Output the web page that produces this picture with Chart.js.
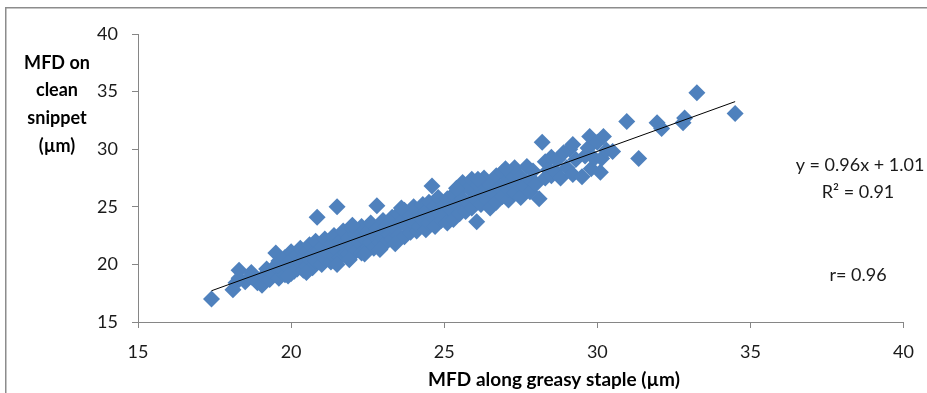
<!DOCTYPE html>
<html>
<head>
<meta charset="utf-8">
<script src="https://cdn.jsdelivr.net/npm/chart.js@4/dist/chart.umd.min.js"></script>
<style>
html,body{margin:0;padding:0;background:#fff;}
#wrap{width:927px;height:393px;position:relative;}
</style>
</head>
<body>
<div id="wrap"><canvas id="c" width="927" height="393"></canvas></div>
<script>
// MFD along greasy staple (µm)
const greasyMFD = [
17.4,18.1,18.2,18.3,18.3,18.5,18.7,18.7,18.9,19.05,19.1,19.2,19.3,19.4,19.5,19.5,19.6,19.6,19.7,19.8,
19.8,19.9,20.0,20.0,20.0,20.1,20.1,20.2,20.2,20.3,20.3,20.4,20.4,20.5,20.5,20.6,20.6,20.7,20.7,20.8,
20.8,20.85,20.9,21.0,21.0,21.1,21.1,21.2,21.3,21.3,21.4,21.4,21.5,21.5,21.6,21.6,21.7,21.7,21.8,21.9,
21.9,22.0,22.0,22.1,22.1,22.2,22.3,22.3,22.4,22.5,22.5,22.6,22.6,22.7,22.7,22.8,22.8,22.9,23.0,23.0,
23.1,23.1,23.2,23.3,23.3,23.4,23.5,23.5,23.6,23.7,23.7,23.8,23.9,23.9,24.0,24.0,24.1,24.2,24.2,24.3,
24.3,24.4,24.4,24.5,24.5,24.6,24.6,24.7,24.7,24.8,24.8,24.9,25.0,25.0,25.1,25.1,25.2,25.3,25.3,25.4,
25.5,25.5,25.6,25.6,25.7,25.8,25.8,25.9,25.9,26.0,26.06,26.1,26.2,26.3,26.3,26.4,26.5,26.5,26.6,26.7,
26.7,26.8,26.9,26.9,27.0,27.1,27.1,27.2,27.3,27.3,27.4,27.5,27.5,27.6,27.7,27.8,27.8,27.9,28.0,28.1,
28.2,28.3,28.3,28.4,28.5,28.5,28.6,28.7,28.8,28.9,29.0,29.1,29.2,29.2,29.3,29.5,29.6,29.7,29.75,29.8,
29.9,30.0,30.1,30.14,30.2,30.3,30.5,30.96,31.35,31.95,32.1,32.8,32.85,33.25,34.5,
19.9,20.5,21.5,21.9,22.4,22.9,23.4,22.0,23.6,25.4,26.1,27.0
];
// MFD on clean snippet (µm)
const cleanMFD = [
17.0,17.8,18.4,19.5,18.8,18.5,19.3,18.9,18.4,18.2,19.0,19.6,18.7,19.2,21.0,19.9,18.8,20.3,19.5,20.6,
19.1,19.8,19.2,21.1,20.4,20.0,19.4,19.6,20.8,21.4,20.2,19.5,20.6,21.1,19.8,20.4,21.7,19.7,20.9,20.3,
22.0,24.1,21.2,21.5,20.0,20.6,22.2,21.0,20.2,21.8,20.7,22.5,21.2,25.0,20.6,22.0,21.7,22.9,21.0,22.3,
20.9,21.5,23.1,21.1,22.6,22.0,21.0,23.3,22.2,21.5,22.9,21.9,23.6,21.4,22.6,25.1,23.1,21.9,23.8,22.3,
21.9,23.3,22.6,24.1,22.2,23.1,22.5,24.4,23.7,22.4,24.7,23.2,22.8,24.2,23.5,25.0,22.9,24.4,23.3,25.2,
23.9,23.0,24.6,23.6,25.4,26.8,24.2,23.3,25.1,24.5,25.8,23.8,25.2,24.3,23.6,25.7,24.8,23.9,26.1,25.2,
24.4,26.4,25.7,27.1,24.6,25.3,26.6,24.9,27.4,25.8,23.7,26.9,25.2,26.2,27.5,25.6,26.9,24.9,26.2,27.7,
25.4,26.7,25.9,28.0,27.1,25.6,26.5,27.8,26.2,28.4,27.0,25.8,27.6,26.8,28.5,27.3,26.3,28.1,27.0,25.7,
30.6,28.9,27.5,28.2,29.3,27.7,28.1,29.1,27.5,29.7,28.4,30.0,27.8,30.4,29.1,27.6,29.4,30.1,31.1,28.3,
29.2,30.6,28.0,29.2,31.1,29.9,29.8,32.4,29.2,32.3,31.8,32.3,32.7,34.9,33.1,
19.0,19.3,20.0,20.4,20.9,21.3,21.8,23.4,24.9,26.6,27.4,28.3
];
// Linear trend line end points (y = 0.96x + 1.01)
const trendX = [17.4, 34.5];
const trendY = [17.71, 34.13];
// Axis ticks
const xTicks = [15, 20, 25, 30, 35, 40];
const yTicks = [15, 20, 25, 30, 35, 40];
const yTitleLines = ['MFD on', 'clean', 'snippet', '(\u00b5m)'];
const xTitle = 'MFD along greasy staple (\u00b5m)';
const annotations = ['y = 0.96x + 1.01', 'R\u00b2 = 0.91', 'r= 0.96'];

const FONT = 'Lato, "Open Sans", sans-serif';
const AXIS_GRAY = '#868686';

const points = greasyMFD.map((x, i) => ({x: x, y: cleanMFD[i]}));
const trend = trendX.map((x, i) => ({x: x, y: trendY[i]}));

const decor = {
  id: 'decor',
  beforeDraw(chart) {
    const ctx = chart.ctx;
    ctx.save();
    ctx.fillStyle = '#fff';
    ctx.fillRect(0, 0, chart.width, chart.height);
    ctx.strokeStyle = '#8c8c8c';
    ctx.lineWidth = 1.5;
    ctx.beginPath();
    ctx.moveTo(5.75, 393);
    ctx.lineTo(5.75, 7.75);
    ctx.lineTo(927, 7.75);
    ctx.stroke();
    ctx.restore();
  },
  afterDraw(chart) {
    const ctx = chart.ctx;
    ctx.save();
    ctx.fillStyle = '#000';
    ctx.textAlign = 'center';
    ctx.textBaseline = 'middle';
    ctx.font = 'bold 18px ' + FONT;
    const ly = [63, 90, 118, 146];
    yTitleLines.forEach((t, i) => ctx.fillText(t, 57, ly[i]));
    ctx.font = 'bold 19px ' + FONT;
    ctx.fillText(xTitle, 554, 380);
    ctx.font = '18px ' + FONT;
    ctx.fillStyle = '#1a1a1a';
    ctx.fillText(annotations[0], 860, 165);
    ctx.fillText(annotations[1], 858, 192);
    ctx.fillText(annotations[2], 858, 275);
    ctx.restore();
  }
};

new Chart(document.getElementById('c'), {
  type: 'scatter',
  data: {
    datasets: [
      {
        type: 'line',
        label: 'Linear trend',
        data: trend,
        borderColor: '#000',
        borderWidth: 1,
        pointRadius: 0,
        fill: false,
        order: 0
      },
      {
        label: 'MFD',
        data: points,
        pointStyle: 'rectRot',
        pointRadius: 8.5,
        pointBackgroundColor: '#4F81BD',
        pointBorderColor: '#4F81BD',
        pointBorderWidth: 0,
        order: 1
      }
    ]
  },
  options: {
    responsive: false,
    animation: false,
    devicePixelRatio: 1,
    layout: {padding: {left: 0, right: 23, top: 34, bottom: 0}},
    plugins: {legend: {display: false}, tooltip: {enabled: false}},
    scales: {
      x: {
        type: 'linear', min: 15, max: 40,
        afterBuildTicks(s) { s.ticks = xTicks.map(v => ({value: v})); },
        afterFit(s) { s.height = 71; },
        border: {display: true, color: AXIS_GRAY, width: 1},
        grid: {drawOnChartArea: false, drawTicks: true, tickLength: 6, color: AXIS_GRAY},
        ticks: {font: {family: FONT, size: 18}, color: '#1a1a1a', padding: 13, maxRotation: 0},
        title: {display: false}
      },
      y: {
        type: 'linear', min: 15, max: 40,
        afterBuildTicks(s) { s.ticks = yTicks.map(v => ({value: v})); },
        afterFit(s) { s.width = 138; },
        border: {display: true, color: AXIS_GRAY, width: 1},
        grid: {drawOnChartArea: false, drawTicks: true, tickLength: 6, color: AXIS_GRAY},
        ticks: {font: {family: FONT, size: 18}, color: '#1a1a1a', padding: 14}
      }
    }
  },
  plugins: [decor]
});
</script>
</body>
</html>
